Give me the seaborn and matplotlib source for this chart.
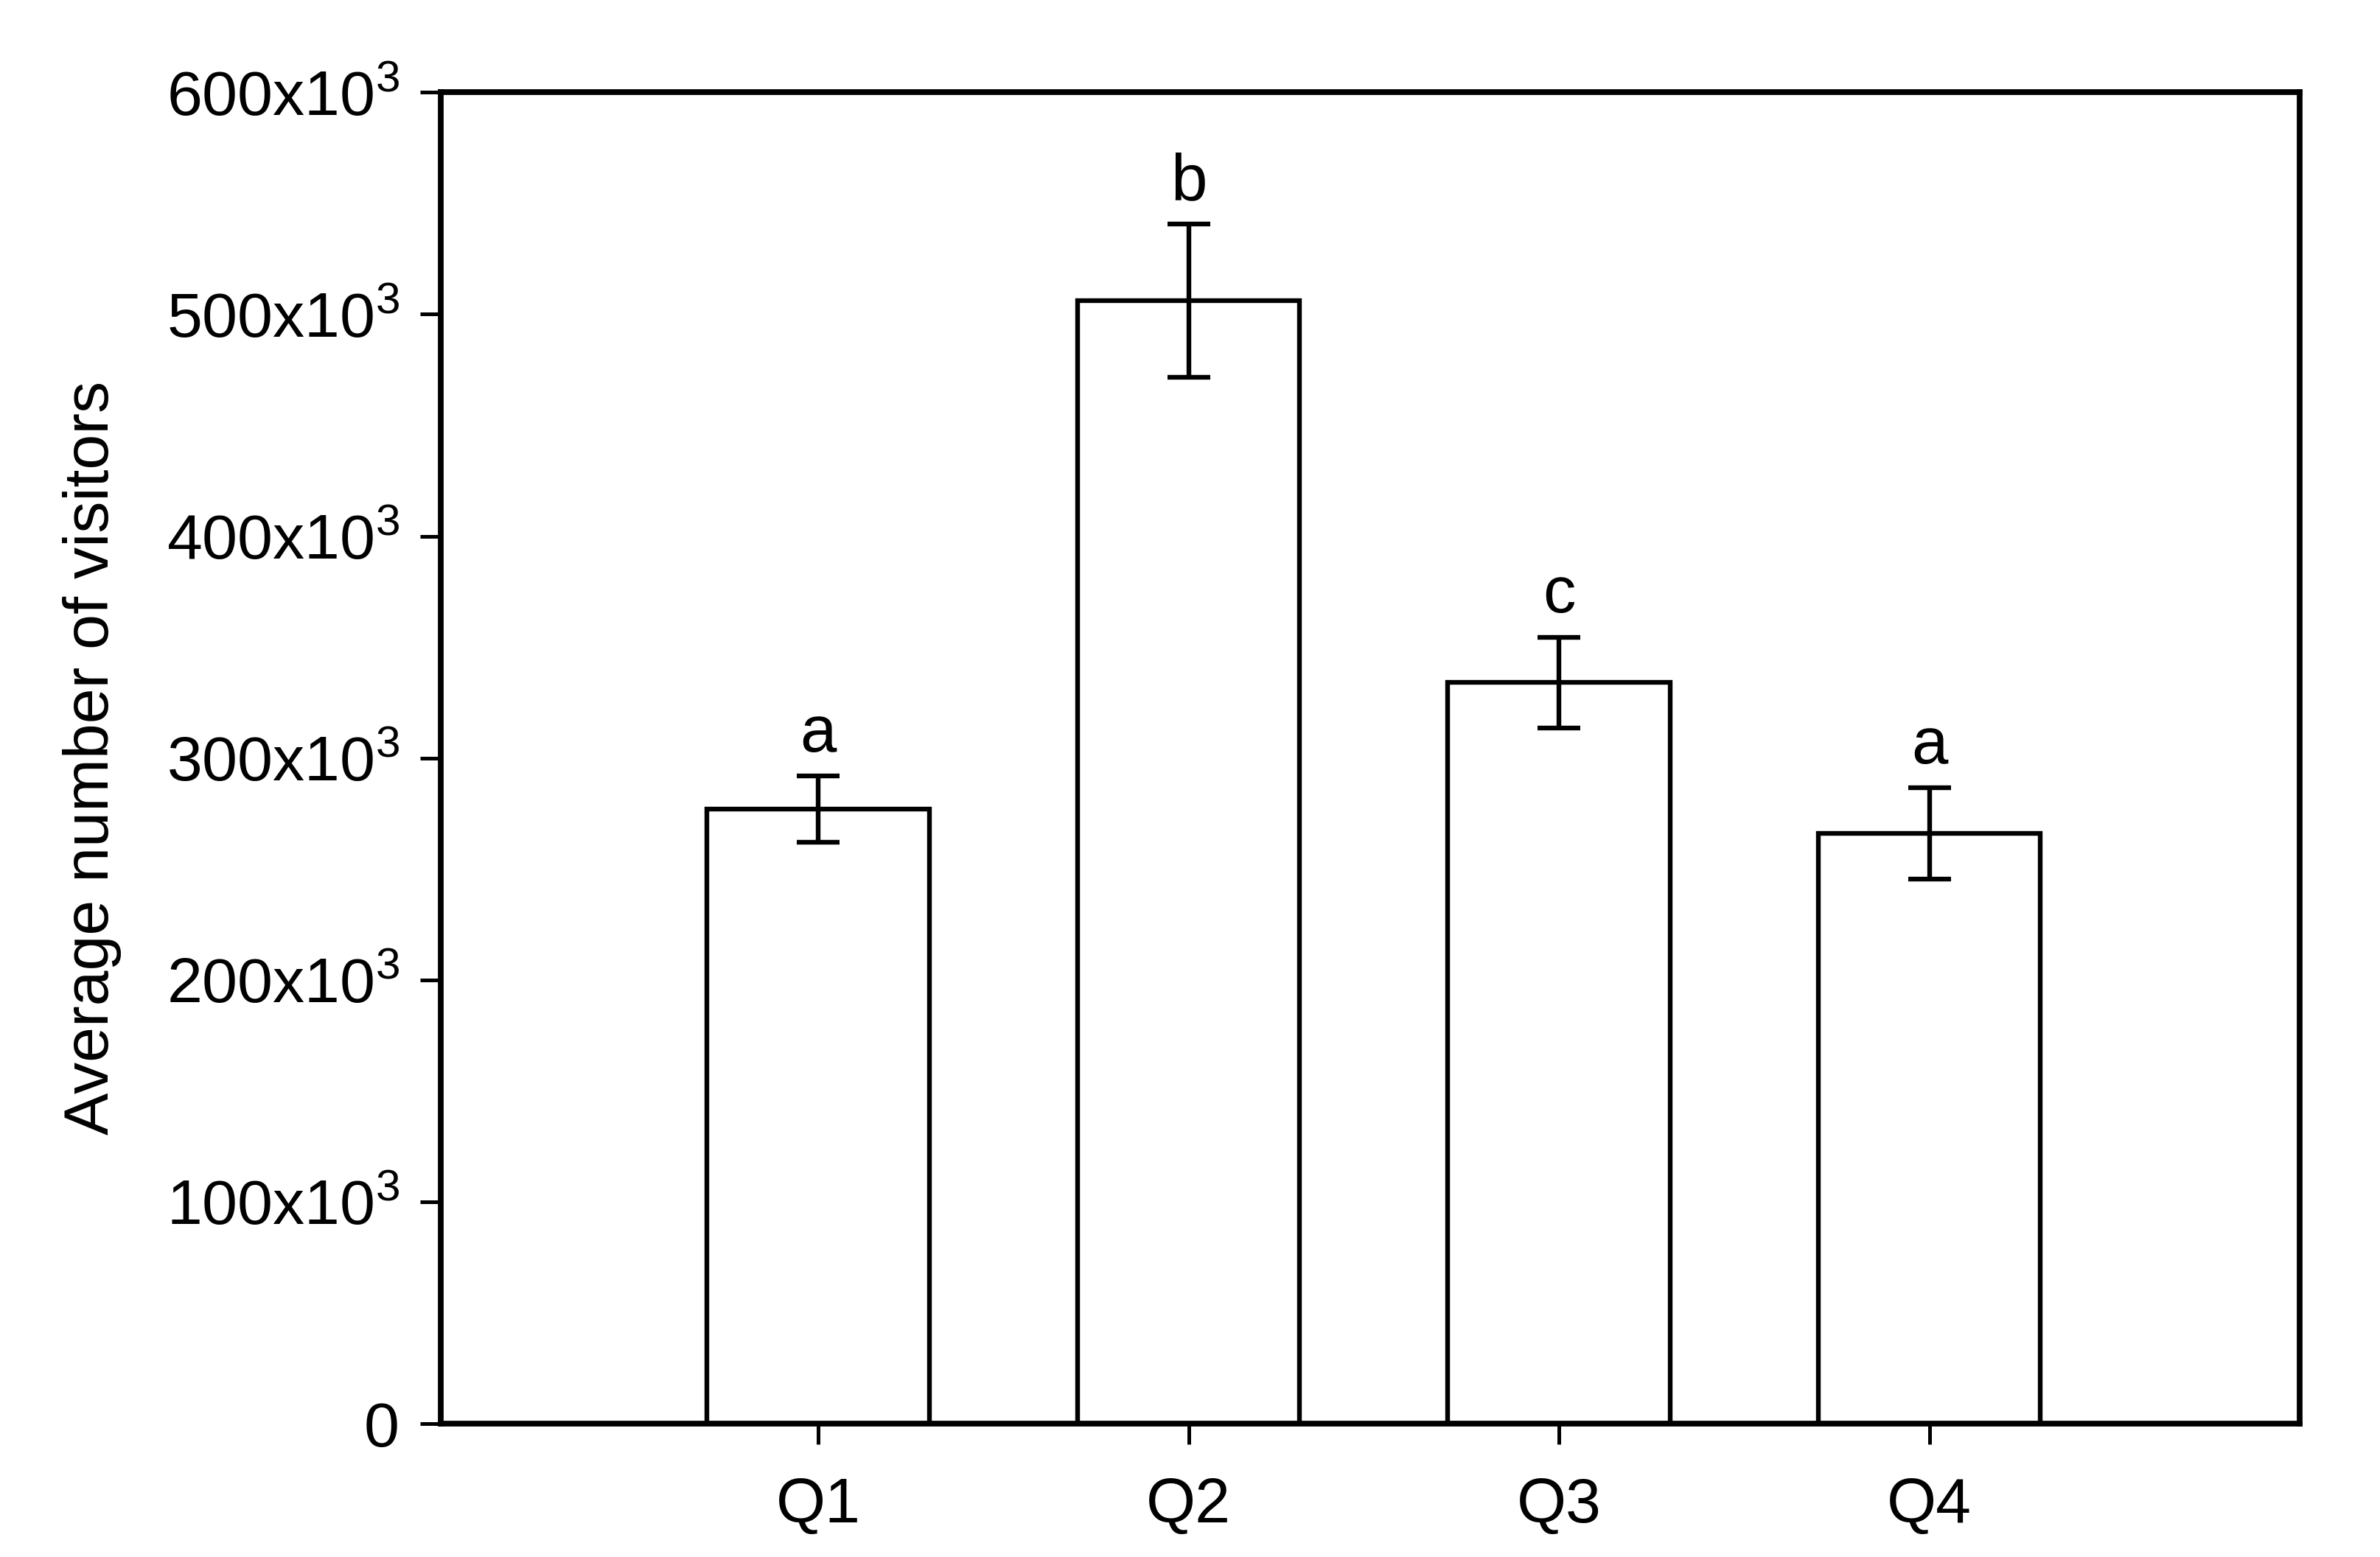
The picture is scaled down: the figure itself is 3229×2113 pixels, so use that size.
import matplotlib
matplotlib.use("Agg")
import matplotlib.pyplot as plt
import seaborn as sns
import pandas as pd
from matplotlib.ticker import FixedLocator, FuncFormatter

quarters = ["Q1", "Q2", "Q3", "Q4"]
means = [277000, 506000, 334000, 266000]
errors = [15000, 34500, 20500, 20500]
letters = ["a", "b", "c", "a"]
yticks = [0, 100000, 200000, 300000, 400000, 500000, 600000]

sns.set_style("ticks")
plt.rcParams["font.family"] = ["Liberation Sans", "DejaVu Sans"]
plt.rcParams["mathtext.fontset"] = "custom"
plt.rcParams["mathtext.rm"] = "Liberation Sans"
plt.rcParams["text.color"] = "black"
plt.rcParams["axes.labelcolor"] = "black"

df = pd.DataFrame({"quarter": quarters, "visitors": means})

fig = plt.figure(figsize=(16.15, 10.565), dpi=200)
ax = fig.add_axes([0.185, 0.0857, 0.781, 0.855])

sns.barplot(data=df, x="quarter", y="visitors", ax=ax, color="white",
            edgecolor="black", linewidth=2.3, width=0.6, errorbar=None)
ax.errorbar(range(len(quarters)), means, yerr=errors, fmt="none",
            ecolor="black", elinewidth=2.3, capsize=10.5, capthick=2.3, zorder=5)

for i, (m, e, l) in enumerate(zip(means, errors, letters)):
    ax.text(i, m + e + 11000, l, ha="center", va="baseline", fontsize=32,
            color="black")

ax.set_xlim(-1.02, 4.0)
ax.set_ylim(0, 600000)
ax.yaxis.set_major_locator(FixedLocator(yticks))

def fmt(v, pos):
    if v == 0:
        return "0"
    return r"$\mathregular{%dx10^{3}}$" % int(round(v / 1000))

ax.yaxis.set_major_formatter(FuncFormatter(fmt))

for s in ax.spines.values():
    s.set_visible(True)
    s.set_linewidth(2.8)
    s.set_color("black")

ax.tick_params(axis="both", direction="out", length=10, width=1.8, labelsize=31,
               colors="black")
ax.tick_params(axis="y", pad=10)
ax.tick_params(axis="x", pad=16)
ax.set_xlabel("")
ax.set_ylabel("Average number of visitors", fontsize=31, labelpad=22)

fig.savefig("out.png", dpi=200, facecolor="white")
